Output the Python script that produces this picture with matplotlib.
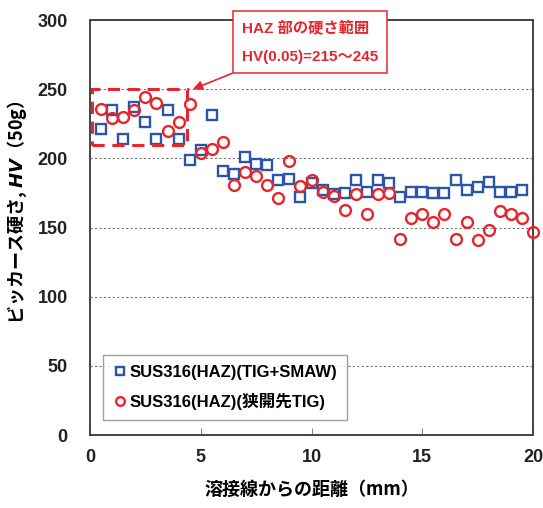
import numpy as np
import matplotlib
matplotlib.use('Agg')
import matplotlib.pyplot as plt
from matplotlib.patches import Rectangle

plt.rcParams['font.family'] = ['Liberation Sans', 'Noto Sans CJK JP', 'DejaVu Sans']
plt.rcParams['font.weight'] = 'bold'

# distance from weld line (mm)
x_tig_smaw = np.arange(1, 40) * 0.5
hv_tig_smaw = [221, 235, 214, 237, 226, 214, 235, 214, 199, 206,
               231, 191, 189, 201, 196, 195, 184, 185, 172, 182,
               177, 174, 175, 184, 176, 184, 182, 172, 176, 176,
               175, 175, 184, 177, 179, 183, 176, 176, 177]

x_narrow_tig = np.arange(1, 41) * 0.5
hv_narrow_tig = [236, 229, 230, 235, 244, 240, 220, 226, 239, 204,
                 207, 212, 181, 190, 187, 181, 171, 198, 180, 184,
                 176, 173, 163, 174, 160, 174, 175, 142, 157, 160,
                 154, 160, 142, 154, 141, 148, 162, 160, 157, 147]

label_a = 'SUS316(HAZ)(TIG+SMAW)'
label_b = 'SUS316(HAZ)(狭開先TIG)'
blue = '#2b55a8'
red = '#e5262d'

fig = plt.figure(figsize=(5.43, 5.08), dpi=100)
ax = fig.add_axes([0.1657, 0.1437, 0.8160, 0.8169])

ax.plot(x_tig_smaw, hv_tig_smaw, 's', ms=7.2, mfc='white', mec=blue, mew=1.7,
        ls='none', label=label_a, zorder=3)
ax.plot(x_narrow_tig, hv_narrow_tig, 'o', ms=7.8, mfc='none', mec=red, mew=1.7,
        ls='none', label=label_b, zorder=4, clip_on=False)

ax.set_xlim(0, 20)
ax.set_ylim(0, 300)
ax.set_xticks([0, 5, 10, 15, 20])
ax.set_yticks(range(0, 301, 50))
ax.tick_params(axis='x', direction='in', length=5, width=0.8, color='#888888',
               labelsize=13, pad=10)
ax.tick_params(axis='y', length=0, labelsize=13, pad=16)
for lab in ax.get_xticklabels() + ax.get_yticklabels():
    lab.set_fontweight('bold')
    lab.set_color('#222222')

ax.grid(axis='y', ls=(0, (2, 2)), lw=0.8, color='#777777')
ax.set_axisbelow(True)
for s in ax.spines.values():
    s.set_color('#444444')
    s.set_linewidth(1.4)

ax.set_xlabel('溶接線からの距離（mm）', fontsize=13, fontweight='bold',
              family=['Noto Sans CJK JP', 'DejaVu Sans'], labelpad=10)
ax.set_ylabel('ビッカース硬さ, $\\mathit{HV}$（50g）', fontsize=13, fontweight='bold',
              family=['Noto Sans CJK JP', 'DejaVu Sans'])
ax.yaxis.label.set_va('center')
ax.yaxis.set_label_coords(-0.164, 0.536)

# HAZ hardness range box
ax.add_patch(Rectangle((0.08, 210), 4.3, 40, fill=False, ec=red, lw=2.2,
                       ls=(0, (4, 2.5)), zorder=5))

ax.annotate('HAZ 部の硬さ範囲\nHV(0.05)=215～245', xy=(4.64, 250), xytext=(6.85, 284),
            xycoords='data', textcoords='data', color=red, fontsize=11,
            fontweight='bold', family=['Liberation Sans', 'Noto Sans CJK JP'],
            linespacing=2.3, va='center', ha='left', annotation_clip=False,
            bbox=dict(boxstyle='square,pad=0.6', fc='white', ec=red, lw=1.1),
            arrowprops=dict(arrowstyle='-|>', color=red, lw=1.2,
                            mutation_scale=14, shrinkA=0, shrinkB=0),
            zorder=6)

leg = ax.legend(loc='lower left', bbox_to_anchor=(0.029, 0.036), borderaxespad=0,
                frameon=True, fancybox=False, edgecolor='#888888',
                handletextpad=0.1, handlelength=0.9, borderpad=0.6,
                labelspacing=0.8, markerscale=0.8,
                prop={'family': ['Liberation Sans', 'Noto Sans CJK JP'],
                      'weight': 'bold', 'size': 12})
leg.get_frame().set_linewidth(1.0)

fig.savefig('out.png', dpi=100)
